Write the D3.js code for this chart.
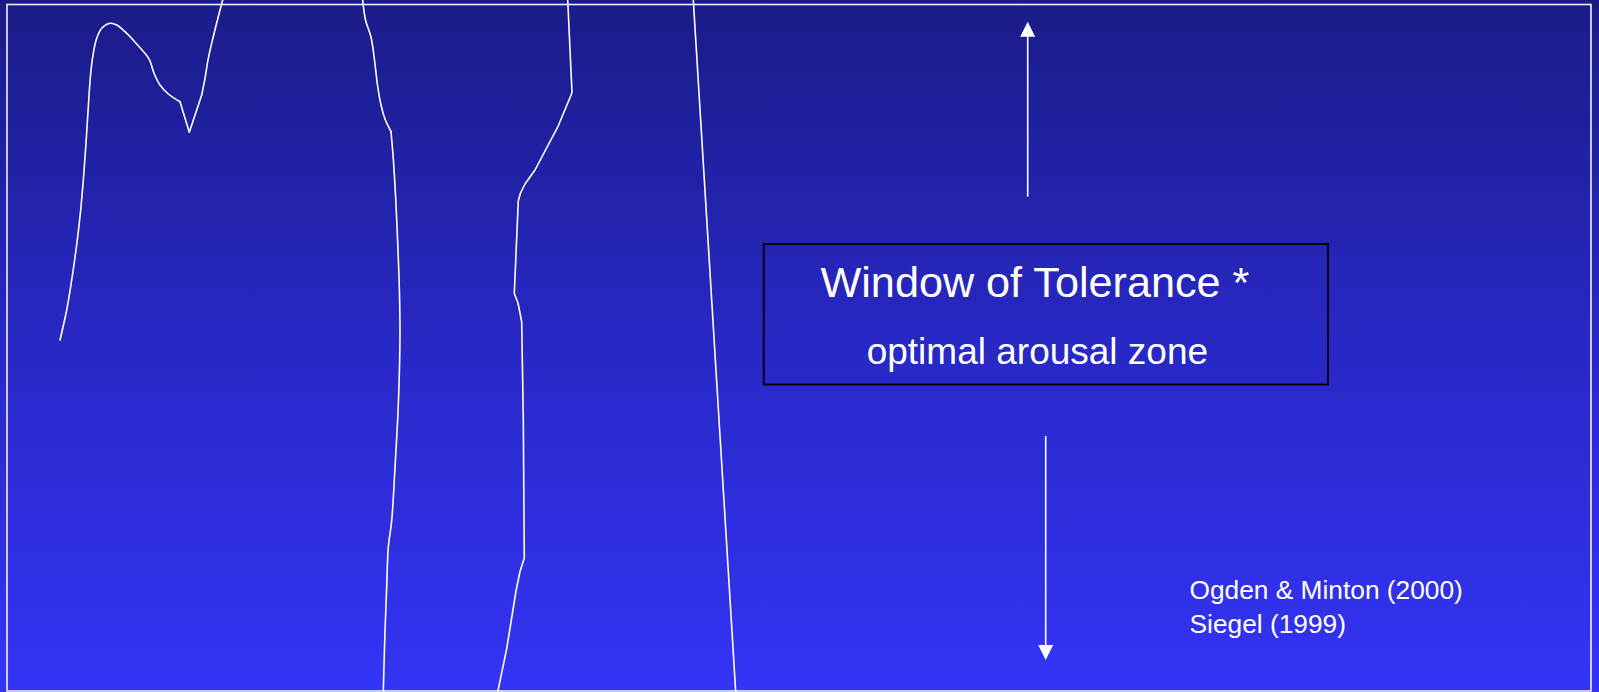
<!DOCTYPE html>
<html>
<head>
<meta charset="utf-8">
<script src="https://cdn.jsdelivr.net/npm/d3@7"></script>
<style>
  html, body { margin: 0; padding: 0; background: #2626b8; overflow: hidden; }
  svg { display: block; }
  text { font-family: "Liberation Sans", Arial, sans-serif; fill: #ffffff; }
</style>
</head>
<body>
<svg id="chart" width="1599" height="692"></svg>
<script>
// ---- data (slide coordinate units) ----
// curve 1: smooth rise, sharp notch, smooth climb off the top
const curve1a = [[60,340],[66.7,310],[71.7,280],[76,250],[80,216.7],[83.3,180],[86,143.3],[88.3,106.7],[90.7,73.3],[93.3,53.3],[96.7,38.3],[101.7,28.3],[110,23.3],[116.7,25],[125,31.7],[136.7,44],[149.3,59.3],[154,73.3],[160,85],[168.3,94],[180,101.7]];
const curve1b = [[180,101.7],[189.3,132.3],[201.7,95]];
const curve1c = [[201.7,95],[205,78.3],[208.3,58.3],[213.3,36.7],[220,10],[222.7,0]];
// curve 2: kink at upper part, then long smooth bow
const curve2a = [[362.7,0],[365.5,20],[371,37],[374.5,60],[377.5,85],[381,105],[385,119],[391,131.5]];
const curve2b = [[391,131.5],[393.3,158.9],[395.7,198.6],[397.7,242.7],[399.3,286.8],[400,331],[399.3,375.1],[397.7,419.2],[395,467.8],[391.7,520.7],[388.3,547.2],[386.7,587],[385,631],[383.3,692]];
// curve 3: mostly straight segments
const curve3 = [[567.7,0],[572,92.7],[558.3,125.8],[535,170],[525,184],[520.5,193],[518.3,200.8],[514.3,293.5],[518,303],[520,313],[521.7,322],[523.3,419],[524.3,558],[520,571.5],[516,591],[506.7,648.7],[497.7,692]];
// curve 4: straight line
const curve4 = [[693.3,0],[735.7,692]];
const arrowUp = { x: 1027.7, from: 196.7, to: 21.7 };
const arrowDown = { x: 1045.7, from: 436, to: 660 };
const boxRect = { x0: 763.7, y0: 244, x1: 1328, y1: 384.5 };
const titleText = "Window of Tolerance *";
const subtitleText = "optimal arousal zone";
const citations = ["Ogden & Minton (2000)", "Siegel (1999)"];

// ---- scales ----
const W = 1599, H = 692;
const x = d3.scaleLinear().domain([0, 1599]).range([0, W]);
const y = d3.scaleLinear().domain([0, 692]).range([0, H]);

const svg = d3.select("#chart");
const defs = svg.append("defs");
const grad = defs.append("linearGradient").attr("id", "bg").attr("x1", 0).attr("y1", 0).attr("x2", 0).attr("y2", 1);
grad.append("stop").attr("offset", "0%").attr("stop-color", "#1b1b88");
grad.append("stop").attr("offset", "50%").attr("stop-color", "#2828c6");
grad.append("stop").attr("offset", "100%").attr("stop-color", "#3434f6");

svg.append("rect").attr("width", W).attr("height", H).attr("fill", "url(#bg)");

// frame
svg.append("rect")
  .attr("x", x(7)).attr("y", y(4.5))
  .attr("width", x(1591) - x(7)).attr("height", y(691) - y(4.5))
  .attr("fill", "none").attr("stroke", "#f0f0ff").attr("stroke-width", 1.6);

// curves
const smooth = d3.line().x(d => x(d[0])).y(d => y(d[1])).curve(d3.curveCatmullRom.alpha(0.5));
const straight = d3.line().x(d => x(d[0])).y(d => y(d[1]));

const segs = [
  [curve1a, smooth], [curve1b, straight], [curve1c, smooth],
  [curve2a, smooth], [curve2b, smooth],
  [curve3, straight], [curve4, straight]
];
svg.append("g").selectAll("path").data(segs).enter().append("path")
  .attr("d", d => d[1](d[0]))
  .attr("fill", "none").attr("stroke", "#fff").attr("stroke-width", 1.6)
  .attr("stroke-linejoin", "round").attr("stroke-linecap", "round");

// arrows
function arrow(a) {
  const dir = a.to < a.from ? -1 : 1;
  const headLen = 15, halfW = 7.5;
  svg.append("line")
    .attr("x1", x(a.x)).attr("x2", x(a.x))
    .attr("y1", y(a.from)).attr("y2", y(a.to - dir * headLen + dir * 1))
    .attr("stroke", "#fff").attr("stroke-width", 1.6);
  const base = a.to - dir * headLen;
  svg.append("path")
    .attr("d", `M${x(a.x)},${y(a.to)} L${x(a.x - halfW)},${y(base)} L${x(a.x + halfW)},${y(base)} Z`)
    .attr("fill", "#fff");
}
arrow(arrowUp);
arrow(arrowDown);

// box
svg.append("rect")
  .attr("x", x(boxRect.x0)).attr("y", y(boxRect.y0))
  .attr("width", x(boxRect.x1) - x(boxRect.x0)).attr("height", y(boxRect.y1) - y(boxRect.y0))
  .attr("fill", "none").attr("stroke", "#000").attr("stroke-width", 1.8);

svg.append("text").attr("x", x(820.5)).attr("y", y(296.7))
  .attr("font-size", 43.2).text(titleText);
svg.append("text").attr("x", x(866.7)).attr("y", y(364.3))
  .attr("font-size", 37).text(subtitleText);

svg.selectAll("text.cite").data(citations).enter().append("text")
  .attr("class", "cite")
  .attr("x", x(1189.5))
  .attr("y", (d, i) => y(599.3 + i * 33.5))
  .attr("font-size", 26.3)
  .text(d => d);
</script>
</body>
</html>
